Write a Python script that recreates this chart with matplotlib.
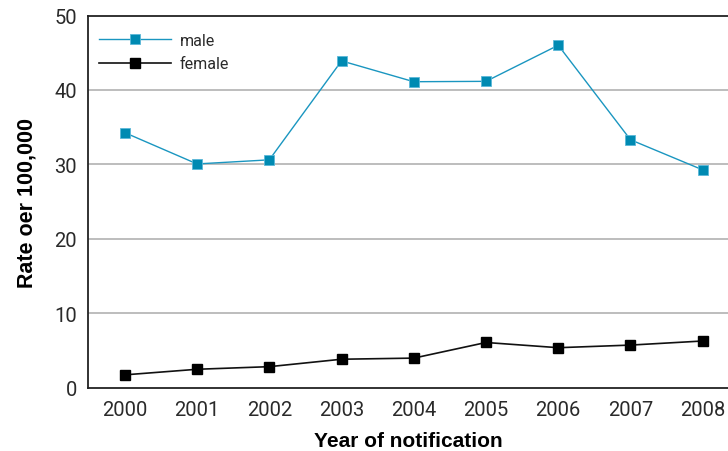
import matplotlib.pyplot as plt

years = [2000, 2001, 2002, 2003, 2004, 2005, 2006, 2007, 2008]
male = [34.25, 30.05, 30.6, 43.9, 41.1, 41.15, 46.0, 33.3, 29.25]
female = [1.7, 2.45, 2.8, 3.8, 3.95, 6.05, 5.35, 5.7, 6.25]
y_ticks = [0, 10, 20, 30, 40, 50]

teal_line = "#1a96c0"
teal_fill = "#008ab2"
teal_edge = "#5ab8d8"
light = ["Roboto", "DejaVu Sans"]
bold = ["Liberation Sans", "DejaVu Sans"]

fig = plt.figure(figsize=(7.28, 4.52), dpi=100)
# axes box: x 88..728 px, y 16.5..388.5 px
ax = fig.add_axes([88 / 728, (452 - 388.5) / 452, 640 / 728, 372 / 452])

for y in y_ticks[1:-1]:
    ax.axhline(y, color="#bdbdbd", lw=1.4, zorder=0)

ax.plot(years, male, color=teal_line, lw=1, marker="s", markersize=7.2,
        markerfacecolor=teal_fill, markeredgecolor=teal_edge, markeredgewidth=0.6, label="male")
ax.plot(years, female, color="#111111", lw=1.2, marker="s", markersize=7.2,
        markerfacecolor="black", markeredgecolor="black", label="female")

ax.set_xlim(1999.49, 2008.35)
ax.set_ylim(0, 50)
ax.set_xticks(years)
ax.set_yticks(y_ticks)
ax.tick_params(axis="x", length=0, pad=9)
ax.tick_params(axis="y", length=0, pad=8)
for lbl in ax.get_xticklabels() + ax.get_yticklabels():
    lbl.set_family(light)
    lbl.set_fontweight("normal")
    lbl.set_fontsize(14.5)
    lbl.set_color("#2a2a2a")

ax.spines["right"].set_visible(False)
for s in ("left", "bottom", "top"):
    ax.spines[s].set_linewidth(1.3)
    ax.spines[s].set_color("#222222")

ax.set_xlabel("Year of notification", family=bold, stretch="normal",
              fontsize=15, fontweight="bold", labelpad=9)
ax.set_ylabel("Rate oer 100,000", family=bold, stretch="normal", fontsize=15.5,
              fontweight="bold", labelpad=12)

leg = ax.legend(loc="upper left", bbox_to_anchor=(0.0072, 0.971), borderaxespad=0,
                frameon=False, handlelength=4.5, handletextpad=0.55, labelspacing=0.53,
                prop={"family": light, "weight": "normal", "size": 11.5})
for t in leg.get_texts():
    t.set_color("#2a2a2a")

fig.savefig("out.png", dpi=100)
